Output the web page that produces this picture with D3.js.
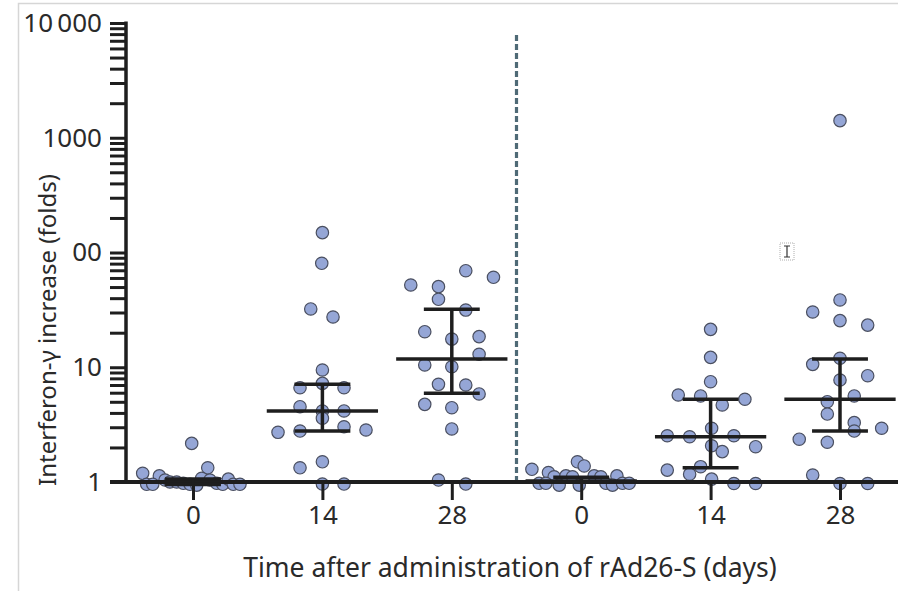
<!DOCTYPE html>
<html>
<head>
<meta charset="utf-8">
<script src="https://cdn.jsdelivr.net/npm/d3@7"></script>
<style>
  html, body { margin: 0; padding: 0; background: #fff; }
  svg { display: block; }
  text { font-family: "Noto Sans", "Open Sans", sans-serif; fill: #2a2a2a; }
</style>
</head>
<body>
<svg id="chart" width="898" height="591"></svg>
<script>
// ---- data ----
const categories = ["0", "14", "28", "0", "14", "28"];
const yTickLabels = { 1: "1", 10: "10", 100: "00", 1000: "1000", 10000: "10\u2009000" };
const yTitle = "Interferon-\u03b3 increase (folds)";
const xTitle = "Time after administration of rAd26-S (days)";

// individual fold increases per group
const values0a  = [2.17, 1.33, 1.19, 1.13, 0.955, 0.955, 1.04, 1.0, 1.0, 0.974, 0.955, 0.94, 1.077, 1.04, 0.974, 0.955, 1.06, 0.955, 0.955];
const jitter0a  = [-0.01, 0.114, -0.389, -0.26, -0.358, -0.311, -0.216, -0.178, -0.126, -0.075, -0.023, 0.029, 0.067, 0.131, 0.183, 0.23, 0.273, 0.311, 0.363];
const values14a = [149, 80.5, 32.2, 27.4, 9.46, 6.63, 7.24, 6.63, 4.53, 4.16, 4.16, 3.59, 2.71, 2.78, 3.03, 2.84, 1.33, 1.50, 0.96, 0.96];
const jitter14a = [0, -0.005, -0.09, 0.082, 0, -0.173, 0, 0.167, -0.173, 0, 0.167, 0, -0.343, -0.173, 0.167, 0.337, -0.173, 0, 0, 0.167];
const values28a = [69.4, 60.8, 52.1, 50.4, 39.1, 31.5, 20.4, 17.6, 18.5, 12.97, 10.46, 10.1, 7.1, 7.0, 5.85, 4.75, 4.44, 2.9, 1.04, 0.96];
const jitter28a = [0.108, 0.322, -0.317, -0.103, -0.103, 0.108, -0.209, 0, 0.211, 0.211, -0.209, 0, -0.103, 0.108, 0.211, -0.209, 0, 0, -0.103, 0.108];
const values0b  = [1.29, 1.50, 1.38, 1.21, 1.11, 1.13, 1.11, 1.13, 1.11, 1.13, 0.974, 0.974, 0.94, 0.94, 0.974, 0.94, 0.974, 0.974];
const jitter0b  = [-0.381, -0.029, 0.023, -0.253, -0.209, -0.118, -0.067, 0.1, 0.152, 0.276, -0.325, -0.273, -0.17, -0.015, 0.191, 0.242, 0.319, 0.371];
const values14b = [21.4, 12.2, 7.48, 5.73, 5.62, 5.26, 4.69, 2.94, 2.53, 2.48, 2.53, 2.07, 2.03, 1.84, 1.27, 1.36, 1.17, 1.06, 0.97, 0.97];
const jitter14b = [0, 0, 0, -0.25, -0.077, 0.265, 0.09, 0.008, -0.335, -0.162, 0.18, 0.008, 0.348, 0.09, -0.335, -0.077, -0.162, 0.008, 0.18, 0.348];
const values28b = [1409, 38.6, 30.3, 25.5, 23.3, 11.97, 10.6, 7.74, 8.44, 5.62, 5.01, 3.91, 3.29, 2.78, 2.94, 2.36, 2.22, 1.15, 0.97, 0.97];
const jitter28b = [0, 0, -0.211, 0, 0.214, 0, -0.211, 0, 0.214, 0.11, -0.098, -0.098, 0.11, 0.11, 0.322, -0.315, -0.098, -0.211, 0, 0.214];

// median and interquartile range per group
const medians = [1.0, 4.16, 11.8, 1.02, 2.48, 5.26];
const q1s     = [0.95, 2.78, 5.93, 1.0, 1.33, 2.78];
const q3s     = [1.06, 7.1, 32, 1.1, 5.26, 11.8];

const groupValues = [values0a, values14a, values28a, values0b, values14b, values28b];
const groupJitter = [jitter0a, jitter14a, jitter28a, jitter0b, jitter14b, jitter28b];

// ---- layout ----
const svg = d3.select("#chart");
const x = d3.scaleLinear().domain([0, 5]).range([193, 840]);
const y = d3.scaleLog().domain([1, 10000]).range([482, 23]);
const axisX = 126;
const ink = "#1e1e1e";

// light frame
svg.append("path")
  .attr("d", "M18.5,591 L18.5,3.5 L898,3.5")
  .attr("fill", "none").attr("stroke", "#d6d6d6").attr("stroke-width", 1.5);

// points
const pts = [];
groupValues.forEach((vals, g) => vals.forEach((v, i) => pts.push({ g, v, j: groupJitter[g][i] })));
svg.append("g").selectAll("circle").data(pts).join("circle")
  .attr("cx", d => x(d.g + d.j))
  .attr("cy", d => y(d.v))
  .attr("r", 6.2)
  .attr("fill", "#95a6d6")
  .attr("stroke", "#4a4f60")
  .attr("stroke-width", 1.2);

// dashed separator
svg.append("line")
  .attr("x1", (x(2) + x(3)) / 2).attr("x2", (x(2) + x(3)) / 2)
  .attr("y1", 35).attr("y2", y(1) - 2)
  .attr("stroke", "#4f6a76").attr("stroke-width", 3.2)
  .attr("stroke-dasharray", "6,3");

// y axis
const yTicks = [];
for (let e = 0; e < 4; e++) for (let m = 1; m < 10; m++) yTicks.push(m * Math.pow(10, e));
yTicks.push(10000);
const yAxis = d3.axisLeft(y)
  .tickValues(yTicks)
  .tickSize(16)
  .tickPadding(8)
  .tickFormat(d => yTickLabels[d] || "");
const gy = svg.append("g").attr("transform", `translate(${axisX},0)`).call(yAxis);
gy.select(".domain").remove();
gy.selectAll(".tick line").attr("stroke", ink).attr("stroke-width", 3);
gy.selectAll(".tick text").attr("font-size", 26).attr("fill", "#2a2a2a")
  .attr("font-family", "Noto Sans, Open Sans, sans-serif");
svg.append("line")
  .attr("x1", axisX).attr("x2", axisX)
  .attr("y1", y(10000) - 1.5).attr("y2", y(1) + 2)
  .attr("stroke", ink).attr("stroke-width", 3.5);

// x axis baseline
svg.append("line")
  .attr("x1", 110).attr("x2", 898)
  .attr("y1", y(1)).attr("y2", y(1))
  .attr("stroke", ink).attr("stroke-width", 4);

// x ticks and labels
const xAxis = d3.axisBottom(x)
  .tickValues(d3.range(categories.length))
  .tickSize(18)
  .tickPadding(6)
  .tickFormat(i => categories[i]);
const gx = svg.append("g").attr("transform", `translate(0,${y(1)})`).call(xAxis);
gx.select(".domain").remove();
gx.selectAll(".tick line").attr("stroke", ink).attr("stroke-width", 3);
gx.selectAll(".tick text").attr("font-size", 26).attr("fill", "#2a2a2a")
  .attr("font-family", "Noto Sans, Open Sans, sans-serif");

// median & IQR bars
const bars = svg.append("g").attr("stroke", ink).attr("stroke-width", 3.5);
categories.forEach((c, g) => {
  bars.append("line").attr("x1", x(g - 0.43)).attr("x2", x(g + 0.43))
    .attr("y1", y(medians[g])).attr("y2", y(medians[g]));
  bars.append("line").attr("x1", x(g - 0.216)).attr("x2", x(g + 0.216))
    .attr("y1", y(q1s[g])).attr("y2", y(q1s[g]));
  bars.append("line").attr("x1", x(g - 0.216)).attr("x2", x(g + 0.216))
    .attr("y1", y(q3s[g])).attr("y2", y(q3s[g]));
  bars.append("line").attr("x1", x(g)).attr("x2", x(g))
    .attr("y1", y(q1s[g])).attr("y2", y(q3s[g]));
});

// titles
svg.append("text")
  .attr("transform", "translate(56,330) rotate(-90)")
  .attr("text-anchor", "middle")
  .attr("font-size", 24)
  .text(yTitle);
svg.append("text")
  .attr("x", 510).attr("y", 577)
  .attr("text-anchor", "middle")
  .attr("font-size", 26.5)
  .text(xTitle);

// small I-beam artefact
const cur = svg.append("g").attr("transform", "translate(780,243)");
cur.append("rect").attr("x", 0).attr("y", 0).attr("width", 14).attr("height", 17)
  .attr("fill", "none").attr("stroke", "#999").attr("stroke-width", 0.8).attr("stroke-dasharray", "1,1");
cur.append("path").attr("d", "M4,3 L10,3 M7,3 L7,14 M4,14 L10,14")
  .attr("fill", "none").attr("stroke", "#333").attr("stroke-width", 1.2);
</script>
</body>
</html>
